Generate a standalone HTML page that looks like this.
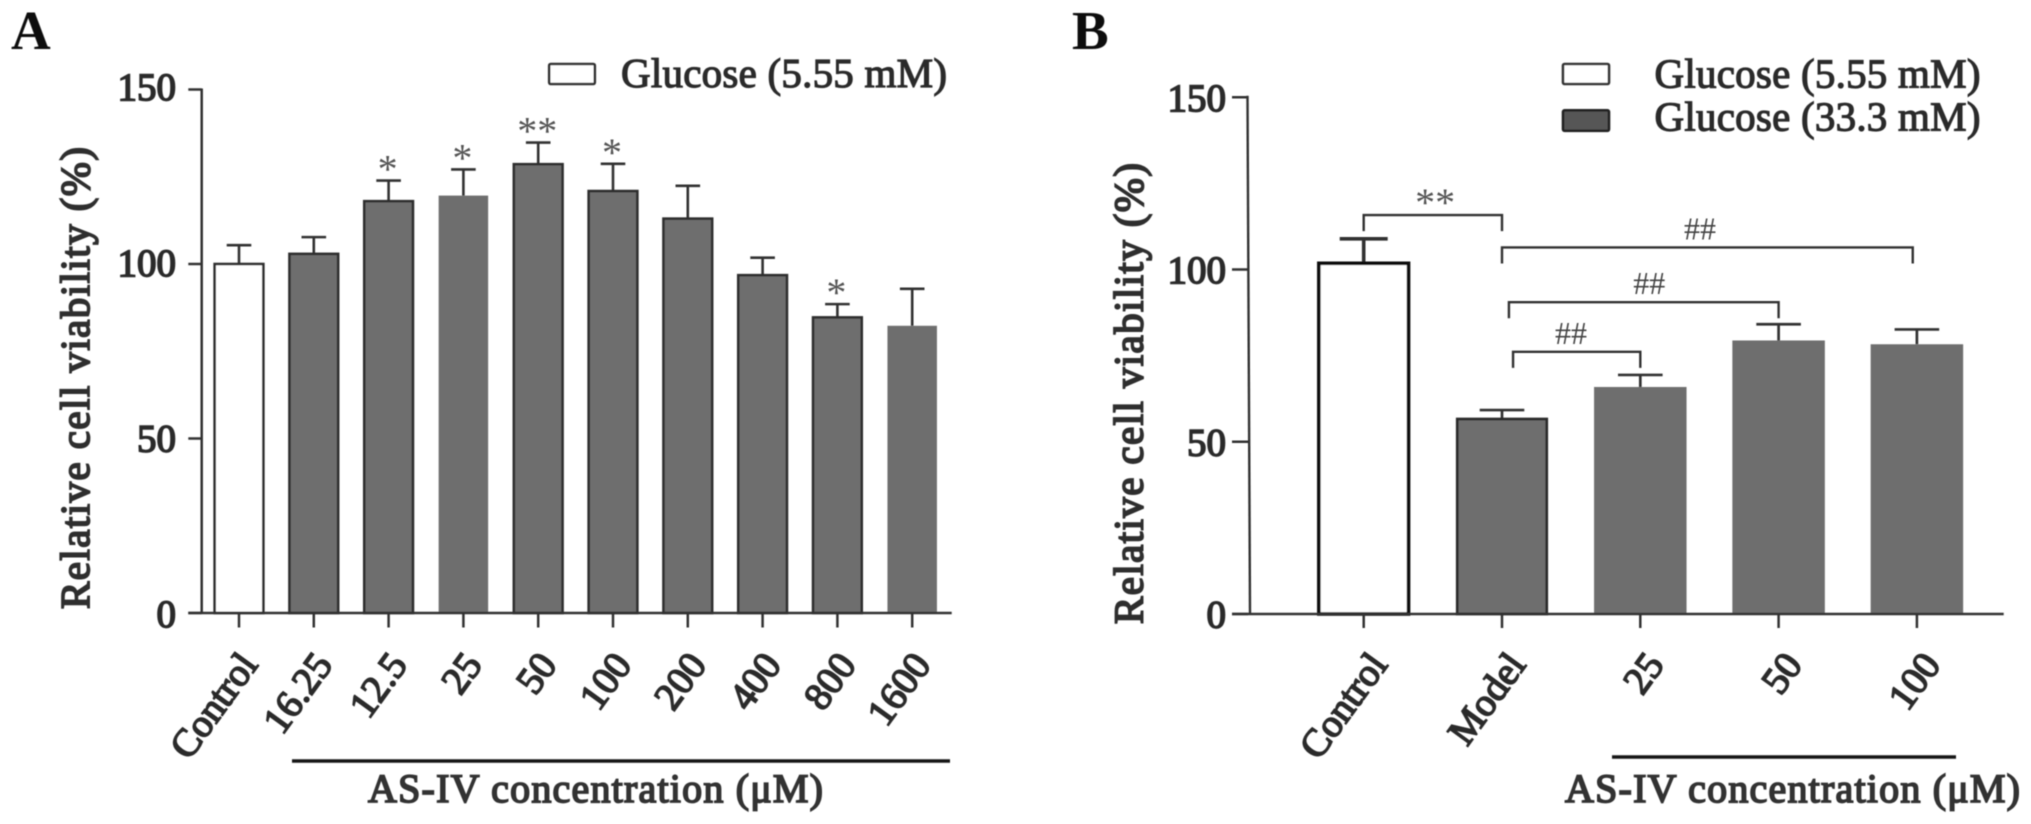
<!DOCTYPE html>
<html lang="en">
<head>
<meta charset="utf-8">
<title>Relative cell viability panels A and B</title>
<style>
html,body{margin:0;padding:0;background:#fff;width:2031px;height:824px;overflow:hidden}
svg{display:block}
text{font-family:"Liberation Serif","DejaVu Serif",serif;fill:#222}
.axis-title{font-size:41px;fill:#2e2e2e;stroke:#2e2e2e;stroke-width:1.8px}
.tick-text{font-size:39px;fill:#2a2a2a;stroke:#2a2a2a;stroke-width:1.6px}
.legend-text{font-size:41px;fill:#2a2a2a;stroke:#2a2a2a;stroke-width:1.2px}
.panel-letter{font-weight:bold;font-size:55px;fill:#111}
.conc-text{font-size:40px;fill:#333;stroke:#333;stroke-width:1.7px}
</style>
</head>
<body>
<svg id="figure" xmlns="http://www.w3.org/2000/svg" width="2031" height="824" viewBox="0 0 2031 824">
  <defs><filter id="soft" x="-2%" y="-2%" width="104%" height="104%"><feGaussianBlur stdDeviation="0.6"/></filter></defs>
  <rect width="2031" height="824" fill="#fff"/>
  <g id="root" filter="url(#soft)">
    <text class="panel-letter" x="11" y="49">A</text>
    <text class="panel-letter" x="1072" y="49">B</text>

    <text class="axis-title" transform="translate(89,609) rotate(-90)" textLength="462">Relative cell viability (%)</text>
    <text class="axis-title" transform="translate(1142.5,624) rotate(-90)" textLength="461">Relative cell viability (%)</text>

    <rect x="549.2" y="64" width="45.6" height="20" rx="1.5" fill="#fff" stroke="#333" stroke-width="2.6"/>
    <text class="legend-text" x="621" y="87" textLength="326">Glucose (5.55 mM)</text>

    <rect x="1563" y="64" width="46" height="20" rx="1.5" fill="#fff" stroke="#333" stroke-width="2.6"/>
    <text class="legend-text" x="1654.5" y="87.5" textLength="326">Glucose (5.55 mM)</text>
    <rect x="1563" y="110.3" width="46" height="20.5" rx="1.5" fill="#565656" stroke="#222" stroke-width="2.6"/>
    <text class="legend-text" x="1654.5" y="130.5" textLength="326">Glucose (33.3 mM)</text>

    <line x1="292" y1="761" x2="950" y2="761" stroke="#161616" stroke-width="3.4"/>
    <text class="conc-text" x="368" y="802" textLength="455">AS-IV concentration (μM)</text>
    <line x1="1612" y1="757" x2="1956" y2="757" stroke="#161616" stroke-width="3.4"/>
    <text class="conc-text" x="1565" y="802" textLength="455">AS-IV concentration (μM)</text>
  </g>
</svg>
<script>
const yTicks = [0, 50, 100, 150];

const categoriesA = ['Control','16.25','12.5','25','50','100','200','400','800','1600'];
const valuesA = [100, 102.9, 118, 119.6, 128.6, 120.9, 113, 96.8, 84.7, 82.3];
const errorTopsA = [105.4, 107.7, 123.9, 127.1, 134.8, 128.7, 122.4, 101.8, 88.5, 92.9];
const significanceA = ['', '', '*', '*', '**', '*', '', '', '*', ''];

const categoriesB = ['Control','Model','25','50','100'];
const valuesB = [101.8, 56.6, 65.9, 79.4, 78.3];
const errorTopsB = [108.9, 59.2, 69.4, 84.1, 82.6];
const bracketStartsB = [0, 1, 1.05, 1.08];
const bracketEndsB = [1, 3.97, 3, 2];
const bracketLevelsB = [115.8, 106.4, 90.5, 76.1];
const bracketLabelsB = ['**', '##', '##', '##'];
const bracketLabelCentersB = [0.516, 2.432, 2.065, 1.499];

const root = document.getElementById('root');
const NS = 'http://www.w3.org/2000/svg';
function make(tag, attrs, parent) {
  const el = document.createElementNS(NS, tag);
  for (const k in attrs) el.setAttribute(k, attrs[k]);
  (parent || root).appendChild(el);
  return el;
}

/* ---------- Panel A ---------- */
const xA = i => 239 + i * 74.8;
const yA = v => 613 - v * 3.49;
const gA = make('g', {});



categoriesA.forEach((c, i) => {
  const cx = xA(i);
  const stem = make('line', {x1: cx, x2: cx, y1: yA(valuesA[i]), y2: yA(errorTopsA[i]), stroke: '#333', 'stroke-width': 2.6}, gA);
  
  
  const cap = make('line', {x1: cx - 12.3, x2: cx + 12.3, y1: yA(errorTopsA[i]), y2: yA(errorTopsA[i]), stroke: '#333', 'stroke-width': 2.6}, gA);
  
  

  const isControl = i === 0;
  const plain = c === '25' || c === '1600';
  const w = plain ? 49.5 : 48.7;
  const bar = make('rect', {
    x: cx - w / 2, y: yA(valuesA[i]), width: w, height: yA(0) - yA(valuesA[i]),
    fill: isControl ? '#fff' : '#6e6e6e',
    stroke: plain ? 'none' : '#2f2f2f', 'stroke-width': 2.6
  }, gA);
  
  

  const tick = make('line', {x1: cx, x2: cx, y1: yA(0), y2: yA(0) + 14.5, stroke: '#333', 'stroke-width': 2.5}, gA);
  
  

  const label = make('text', {class: 'tick-text', 'text-anchor': 'end', transform: 'translate(' + (cx + 20) + ',665) rotate(-54)'}, gA);
  label.textContent = c;
  
  

  if (significanceA[i]) {
    const s = make('text', {x: cx - 1, y: yA(errorTopsA[i]) + 2, 'text-anchor': 'middle', 'font-size': 40, style: 'fill:#555'}, gA);
    s.textContent = significanceA[i];
    
    
  }
});

const axisYA = make('line', {x1: 201.7, x2: 201.7, y1: yA(150) - 1, y2: yA(0), stroke: '#333', 'stroke-width': 2.5}, gA);


const axisXA = make('line', {x1: 188.3, x2: 951.7, y1: yA(0), y2: yA(0), stroke: '#333', 'stroke-width': 2.5}, gA);



yTicks.forEach(v => {
  const t = make('line', {x1: 188.3, x2: 201.7, y1: yA(v), y2: yA(v), stroke: '#333', 'stroke-width': 2.5}, gA);
  
  
  const l = make('text', {class: 'tick-text', x: 176, y: yA(v) + 14 - 3.3 * v / 150, 'text-anchor': 'end'}, gA);
  l.textContent = v;
  
  
});

/* ---------- Panel B ---------- */
const xB = i => 1363.7 + i * 138.3;
const yB = v => 614 - v * 3.445;
const gB = make('g', {});



categoriesB.forEach((c, i) => {
  const cx = xB(i);
  const sw = i === 0 ? 3.6 : 2.7;
  const stem = make('line', {x1: cx, x2: cx, y1: yB(valuesB[i]), y2: yB(errorTopsB[i]), stroke: '#333', 'stroke-width': sw}, gB);
  
  
  const half = i === 0 ? 24 : 22.3;
  const cap = make('line', {x1: cx - half, x2: cx + half, y1: yB(errorTopsB[i]), y2: yB(errorTopsB[i]), stroke: '#333', 'stroke-width': sw}, gB);
  
  

  const w = i === 0 ? 89.7 : i === 1 ? 89.5 : 92.5;
  const bar = make('rect', {
    x: cx - w / 2, y: yB(valuesB[i]), width: w, height: yB(0) - yB(valuesB[i]),
    fill: i === 0 ? '#fff' : '#6e6e6e',
    stroke: i === 0 ? '#111' : i === 1 ? '#2a2a2a' : 'none',
    'stroke-width': sw
  }, gB);
  
  

  const tick = make('line', {x1: cx, x2: cx, y1: yB(0), y2: yB(0) + 14, stroke: '#333', 'stroke-width': 2.5}, gB);
  
  

  const label = make('text', {class: 'tick-text', 'text-anchor': 'end', transform: 'translate(' + (cx + 25) + ',665) rotate(-54)'}, gB);
  label.textContent = c;
  
  
});

const axisYB = make('line', {x1: 1247.5, x2: 1250, y1: yB(150) - 1.5, y2: yB(0), stroke: '#333', 'stroke-width': 2.4}, gB);


const axisXB = make('line', {x1: 1232, x2: 2003.7, y1: yB(0), y2: yB(0), stroke: '#333', 'stroke-width': 2.5}, gB);



yTicks.forEach(v => {
  const t = make('line', {x1: 1232, x2: 1248, y1: yB(v), y2: yB(v), stroke: '#333', 'stroke-width': 2.5}, gB);
  
  
  const l = make('text', {class: 'tick-text', x: 1226, y: yB(v) + 13.5, 'text-anchor': 'end'}, gB);
  l.textContent = v;
  
  
});

bracketLevelsB.forEach((lv, i) => {
  const x1 = xB(bracketStartsB[i]);
  const x2 = xB(bracketEndsB[i]);
  const y = yB(lv);
  const p = make('path', {d: 'M' + x1 + ' ' + (y + 16) + 'V' + y + 'H' + x2 + 'V' + (y + 16), fill: 'none', stroke: '#333', 'stroke-width': 2.4}, gB);
  
  
  const isStar = bracketLabelsB[i] === '**';
  const t = make('text', {
    x: xB(bracketLabelCentersB[i]), y: isStar ? y + 1 : y - 8,
    'text-anchor': 'middle', 'font-size': isStar ? 40 : 32,
    style: isStar ? 'fill:#555' : 'fill:#444'
  }, gB);
  t.textContent = bracketLabelsB[i];
  
  
});
</script>
</body>
</html>
